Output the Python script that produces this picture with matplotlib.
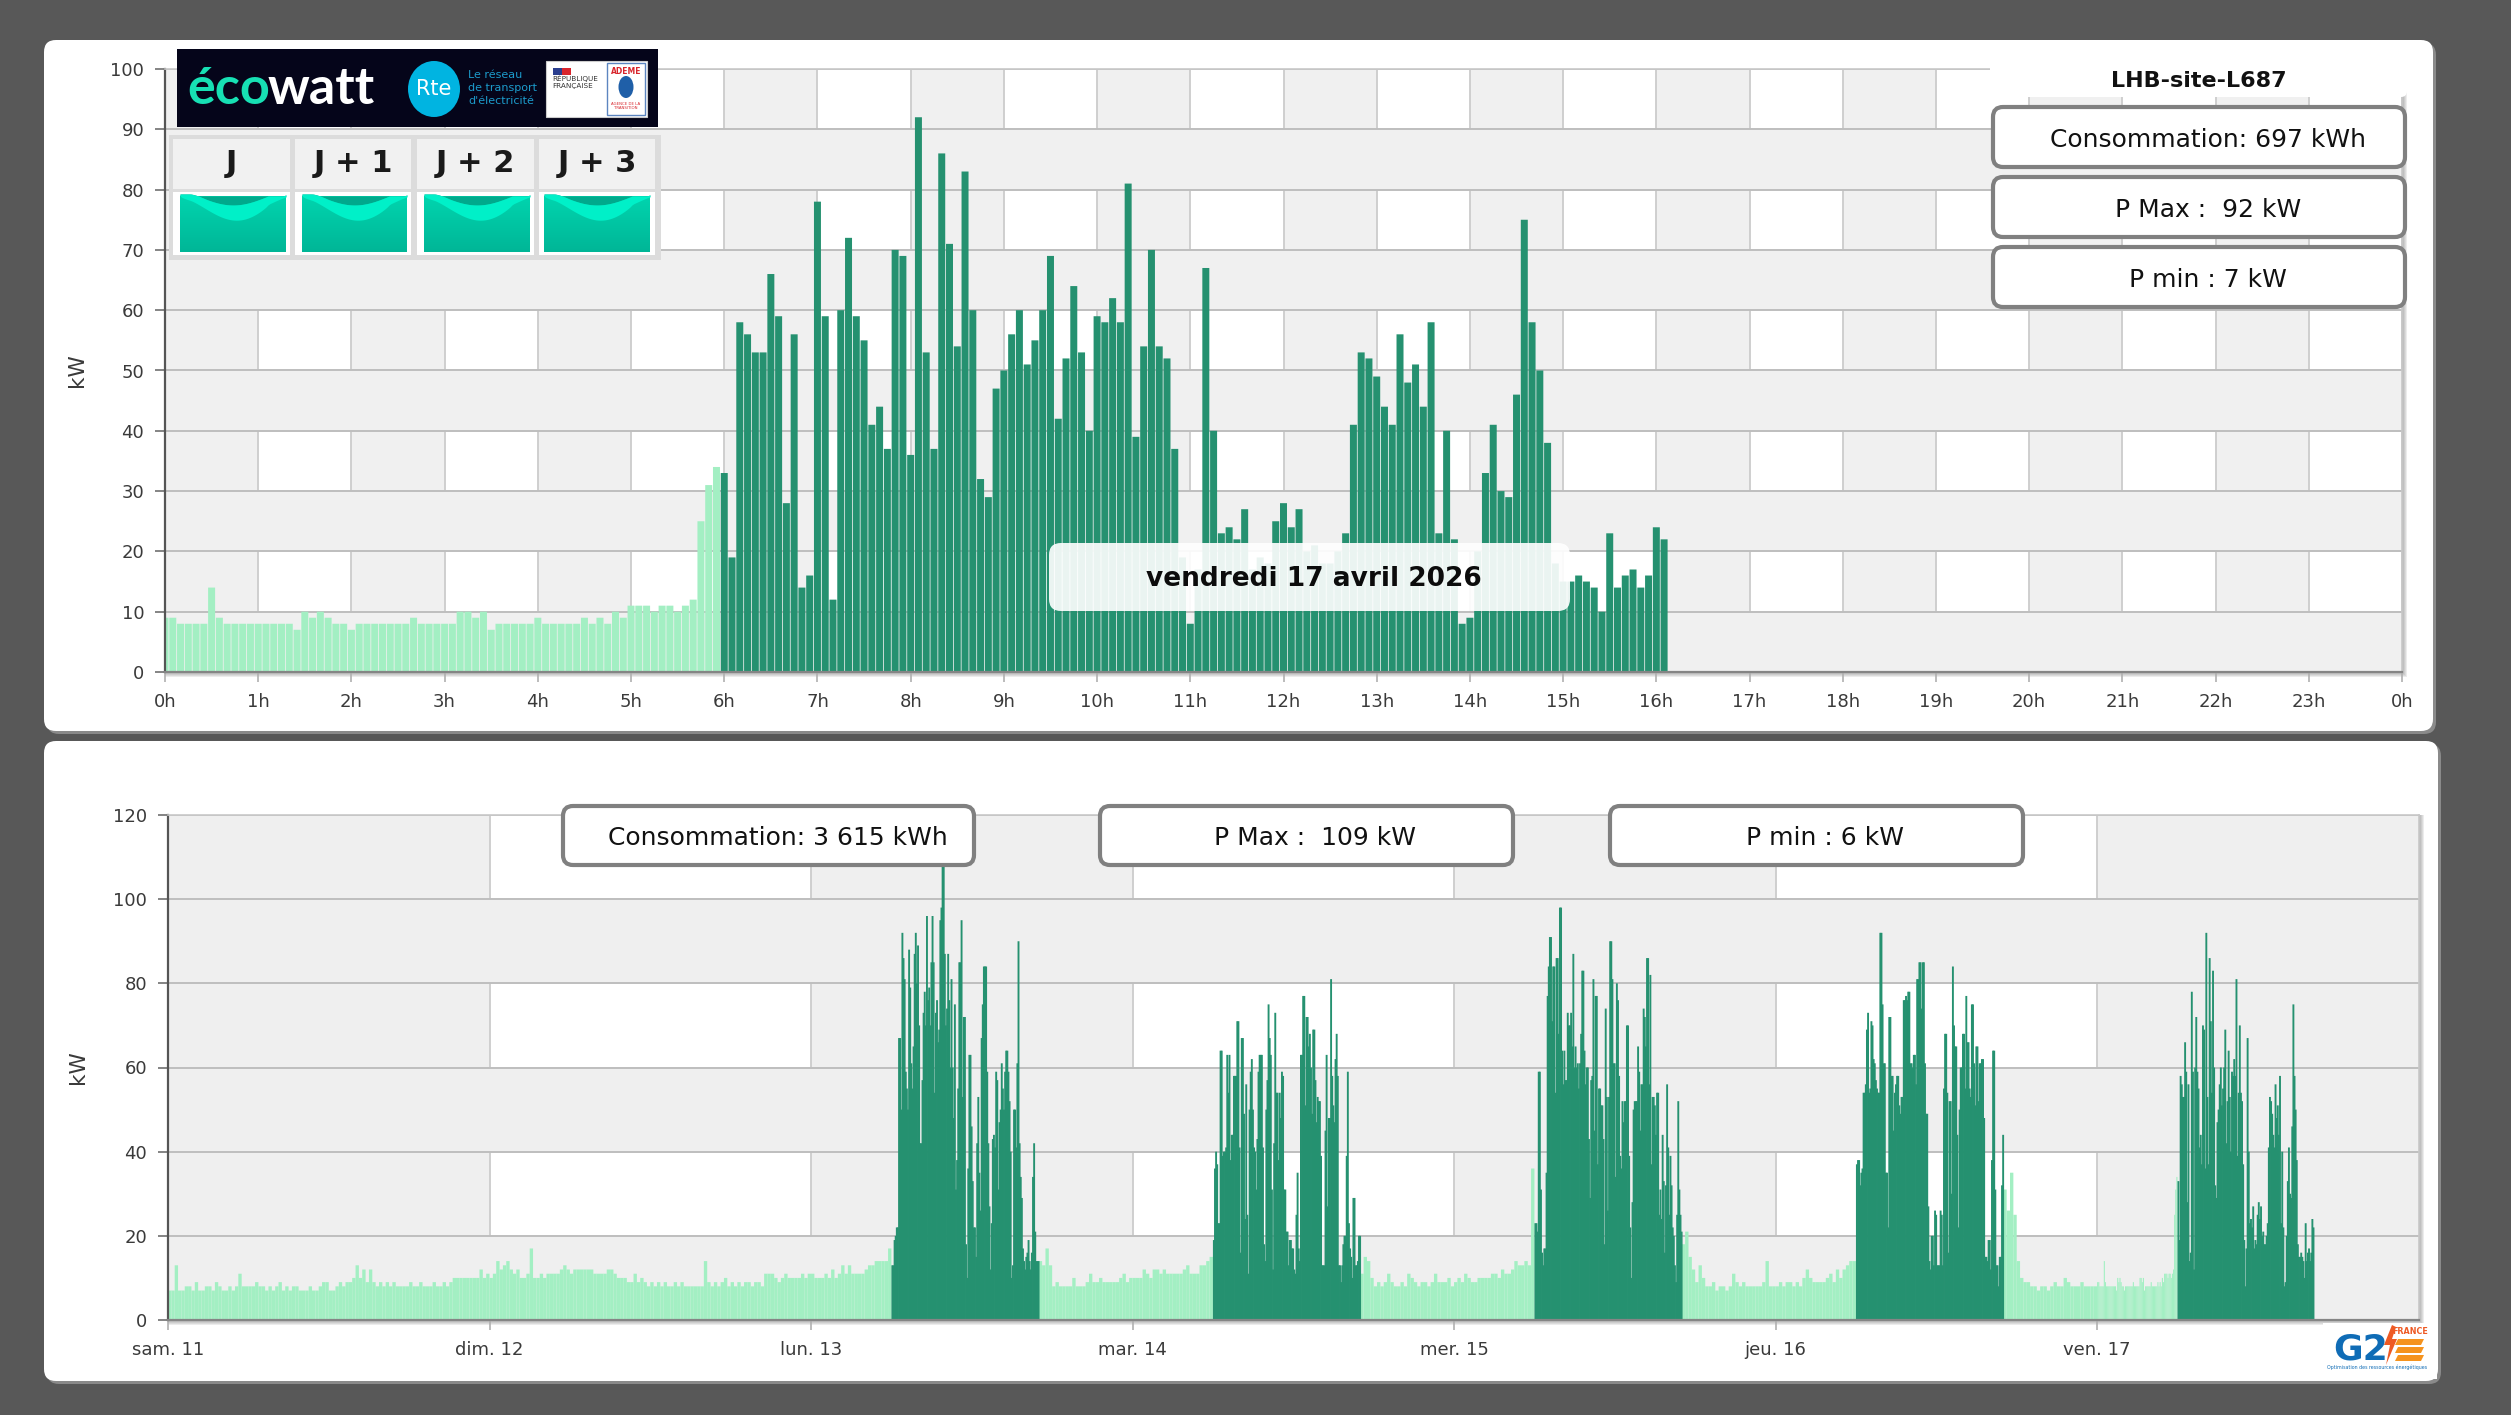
import numpy as np
import matplotlib
matplotlib.use("Agg")
import matplotlib.pyplot as plt
from matplotlib.patches import FancyBboxPatch, Rectangle, Ellipse, Polygon
from matplotlib.colors import LinearSegmentedColormap

# today, 5 minute steps, 0h00 to 5h55 (light) then 6h00 to 16h05 (dark)
today_light = [9, 9, 8, 8, 8, 8, 14, 9, 8, 8, 8, 8,
               8, 8, 8, 8, 8, 7, 10, 9, 10, 9, 8, 8,
               7, 8, 8, 8, 8, 8, 8, 8, 9, 8, 8, 8,
               8, 8, 10, 10, 9, 10, 7, 8, 8, 8, 8, 8,
               9, 8, 8, 8, 8, 8, 9, 8, 9, 8, 10, 9,
               11, 11, 11, 10, 11, 11, 10, 11, 12, 25, 31, 34]
today_dark = [33, 19, 58, 56, 53, 53, 66, 59, 28, 56, 14, 16,
              78, 59, 12, 60, 72, 59, 55, 41, 44, 37, 70, 69,
              36, 92, 53, 37, 86, 71, 54, 83, 60, 32, 29, 47,
              50, 56, 60, 51, 55, 60, 69, 42, 52, 64, 53, 40,
              59, 58, 62, 58, 81, 39, 54, 70, 54, 52, 37, 19,
              8, 17, 67, 40, 23, 24, 22, 27, 17, 19, 18, 25,
              28, 24, 27, 20, 21, 18, 18, 20, 23, 41, 53, 52,
              49, 44, 41, 56, 48, 51, 44, 58, 23, 40, 22, 8,
              9, 20, 33, 41, 30, 29, 46, 75, 58, 50, 38, 18,
              15, 15, 16, 15, 14, 10, 23, 14, 16, 17, 14, 16,
              24, 22]

# week, working hours 6h00 to 16h55, 5 minute steps
lun_dark = [13, 13, 19, 20, 22, 22, 67, 67, 50, 92, 86, 81,
            59, 55, 50, 88, 79, 61, 55, 65, 87, 92, 80, 89,
            70, 42, 42, 57, 73, 78, 70, 96, 76, 79, 70, 85,
            96, 85, 54, 73, 76, 66, 69, 95, 98, 108, 109, 87,
            70, 74, 87, 76, 60, 81, 60, 48, 75, 31, 38, 55,
            85, 85, 95, 53, 72, 72, 18, 10, 36, 63, 63, 46,
            33, 22, 22, 15, 42, 53, 35, 26, 67, 75, 84, 84,
            84, 59, 42, 27, 12, 23, 43, 44, 41, 59, 57, 31,
            47, 50, 61, 55, 50, 59, 64, 64, 59, 52, 40, 10,
            13, 50, 50, 41, 61, 90, 42, 34, 29, 17, 14, 12,
            15, 16, 19, 14, 12, 16, 34, 42, 21, 14, 14, 14]
mar_dark = [19, 36, 40, 37, 23, 23, 64, 64, 39, 40, 40, 41,
            63, 54, 63, 38, 44, 44, 58, 58, 58, 71, 71, 41,
            16, 67, 67, 49, 24, 56, 25, 11, 50, 59, 62, 50,
            41, 40, 31, 43, 59, 63, 63, 63, 41, 18, 14, 50,
            57, 75, 67, 63, 31, 12, 42, 73, 54, 54, 38, 54,
            48, 59, 58, 31, 31, 21, 21, 13, 19, 19, 17, 17,
            12, 11, 25, 35, 17, 14, 63, 63, 77, 77, 51, 72,
            72, 65, 68, 60, 49, 69, 69, 57, 47, 53, 52, 52,
            39, 13, 13, 13, 45, 63, 27, 48, 48, 81, 58, 51,
            47, 62, 68, 58, 13, 13, 9, 13, 18, 20, 20, 39,
            59, 23, 17, 15, 10, 29, 29, 13, 13, 14, 20, 20]
mer_dark = [23, 23, 21, 59, 59, 31, 16, 13, 17, 17, 35, 77,
            84, 91, 91, 71, 84, 84, 54, 86, 86, 68, 98, 98,
            64, 56, 64, 57, 57, 73, 70, 70, 73, 65, 87, 60,
            65, 60, 61, 55, 61, 68, 83, 83, 64, 56, 60, 60,
            43, 29, 57, 58, 81, 45, 77, 77, 37, 55, 55, 51,
            51, 43, 18, 74, 53, 26, 53, 90, 90, 81, 61, 61,
            34, 80, 76, 58, 39, 36, 52, 47, 52, 52, 70, 70,
            39, 22, 10, 28, 50, 52, 52, 52, 65, 59, 45, 56,
            56, 74, 72, 65, 86, 86, 56, 82, 37, 53, 53, 51,
            44, 54, 54, 25, 31, 24, 44, 33, 16, 32, 56, 41,
            25, 39, 32, 22, 20, 13, 9, 25, 52, 31, 25, 21]
jeu_dark = [37, 38, 38, 32, 35, 36, 54, 54, 56, 69, 73, 54,
            55, 71, 70, 62, 61, 57, 55, 54, 54, 92, 92, 75,
            61, 61, 35, 35, 22, 72, 72, 58, 58, 45, 54, 56,
            58, 58, 51, 49, 53, 53, 76, 76, 77, 76, 78, 78,
            61, 61, 60, 63, 63, 56, 81, 81, 85, 85, 74, 85,
            85, 61, 49, 49, 27, 14, 12, 20, 20, 13, 26, 25,
            13, 13, 13, 26, 25, 13, 55, 68, 68, 54, 16, 52,
            52, 30, 84, 70, 65, 65, 44, 22, 50, 60, 60, 68,
            68, 55, 77, 66, 66, 55, 53, 75, 75, 61, 51, 65,
            65, 52, 61, 61, 62, 62, 48, 15, 15, 14, 19, 19,
            12, 38, 64, 64, 31, 13, 13, 8, 15, 15, 32, 44]

# week, off hours, 15 minute steps, one row per hour
weekend_light = [7, 7, 13, 7, 7, 8, 8, 7, 9, 7, 7, 8, 8, 7, 9, 8,
                 7, 7, 8, 7, 8, 11, 8, 8, 8, 8, 9, 8, 8, 7, 8, 7,
                 8, 9, 7, 8, 7, 8, 8, 7, 7, 7, 8, 7, 7, 8, 9, 9,
                 7, 7, 8, 9, 8, 9, 9, 10, 13, 10, 12, 9, 12, 9, 8, 9,
                 8, 9, 8, 9, 8, 8, 8, 8, 9, 8, 8, 9, 8, 8, 8, 9,
                 8, 8, 9, 8, 9, 10, 10, 10, 10, 10, 10, 10, 10, 12, 10, 11,
                 10, 11, 14, 12, 13, 14, 12, 11, 12, 10, 10, 11, 17, 10, 10, 11,
                 10, 11, 11, 11, 11, 12, 13, 12, 11, 12, 12, 12, 12, 12, 12, 11,
                 11, 11, 11, 12, 12, 11, 10, 10, 10, 9, 9, 11, 9, 10, 9, 8,
                 9, 8, 9, 8, 9, 8, 8, 9, 8, 9, 8, 8, 8, 8, 8, 8,
                 14, 9, 8, 9, 8, 9, 10, 8, 9, 8, 9, 8, 9, 9, 8, 9,
                 9, 8, 11, 11, 11, 10, 9, 10, 11, 10, 10, 10, 10, 11, 10, 11,
                 11, 10, 10, 10, 11, 10, 12, 10, 11, 13, 11, 13, 11, 11, 11, 11,
                 12, 13, 13, 14, 14, 14, 14, 17]
lun_night = [14, 13, 17, 13, 8, 9, 8, 8, 8, 8, 10, 8, 8, 8, 9, 11,
             9, 9, 10, 9, 9, 9, 9, 9, 10, 11, 9, 10, 10, 10, 10, 12,
             11, 10, 12, 12, 11, 12, 11, 11, 11, 11, 11, 12, 13, 11, 11, 11,
             13, 13, 14, 15]
mar_night = [11, 15, 14, 10, 8, 9, 8, 9, 11, 9, 8, 8, 9, 8, 11, 10,
             9, 8, 9, 9, 8, 9, 11, 9, 9, 9, 10, 8, 9, 10, 9, 11,
             10, 9, 9, 10, 10, 10, 10, 11, 11, 10, 12, 11, 11, 12, 14, 13,
             13, 14, 13, 36]
mer_night = [18, 21, 15, 12, 9, 13, 10, 8, 8, 9, 7, 8, 8, 7, 8, 11,
             9, 8, 9, 8, 8, 8, 8, 8, 9, 14, 8, 8, 8, 9, 8, 9,
             9, 8, 9, 8, 10, 12, 10, 9, 9, 9, 9, 10, 11, 9, 12, 10,
             12, 13, 14, 14]
jeu_night = [31, 26, 35, 25, 14, 10, 9, 9, 8, 8, 7, 8, 8, 7, 8, 9,
             8, 8, 10, 9, 8, 8, 8, 9, 8, 8, 8, 8]

hour_labels = ['%dh' % (h % 24) for h in range(25)]
day_labels = ['sam. 11', 'dim. 12', 'lun. 13', 'mar. 14', 'mer. 15', 'jeu. 16', 'ven. 17']
top_yticks = list(range(0, 101, 10))
bottom_yticks = list(range(0, 121, 20))
top_stats = ['Consommation: 697 kWh', 'P Max :  92 kW', 'P min : 7 kW']
week_stats = ['Consommation: 3 615 kWh', 'P Max :  109 kW', 'P min : 6 kW']
eco_days = ['J', 'J + 1', 'J + 2', 'J + 3']

W, H = 2511, 1415
DARK = '#259170'
LIGHT = '#A3EFC3'
BAND = '#F0F0F0'
HGRID = '#BEBEBE'
VGRID = '#CFCFCF'
TXT = '#3A3A3A'
plt.rcParams['font.family'] = ['DejaVu Sans']

fig = plt.figure(figsize=(W / 100, H / 100), dpi=100, facecolor='#585858')


def px_axes(left, top, right, bottom, z):
    return fig.add_axes([left / W, 1 - bottom / H, (right - left) / W, (bottom - top) / H], zorder=z)


def rounded(ax, x0, y0, x1, y1, r, **kw):
    p = FancyBboxPatch((x0, y0), x1 - x0, y1 - y0, boxstyle='round,pad=0,rounding_size=%g' % r, **kw)
    ax.add_patch(p)
    return p


# panels and plot shadows, behind the charts
bg = fig.add_axes([0, 0, 1, 1], zorder=0)
bg.set_xlim(0, W)
bg.set_ylim(H, 0)
bg.axis('off')
for x0, y0, x1, y1 in [(44, 40, 2433, 731), (44, 741, 2438, 1381)]:
    rounded(bg, x0 + 3, y0 + 3, x1 + 3, y1 + 3, 12, fc='#8a8a8a', ec='none')
    rounded(bg, x0, y0, x1, y1, 12, fc='white', ec='none')
for d in range(1, 6):
    bg.add_patch(Rectangle((165, 69), 2402 - 165 + d, 603 + d, fc='#707070', ec='none', alpha=0.13))
    bg.add_patch(Rectangle((168, 815), 2419 - 168 + d, 505 + d, fc='#707070', ec='none', alpha=0.13))


def style_axes(ax, xticks, xlabels, yticks, xspan, yspan, band):
    ax.set_facecolor('white')
    ax.set_xticks(xticks)
    ax.set_xticklabels(xlabels, fontsize=13, color=TXT)
    ax.set_yticks(yticks)
    ax.tick_params(axis='y', labelsize=13, labelcolor=TXT, length=7, width=1.2, color='#707070', pad=8)
    ax.tick_params(axis='x', length=7, width=1.2, color='#B0B0B0', pad=8)
    # columns first, the full width rows then hide the vertical lines
    for x in xticks[::2]:
        ax.axvspan(x, x + xspan, fc=band, ec='none', zorder=0.1)
    for x in xticks:
        ax.axvline(x, color=VGRID, lw=1.4, zorder=0.2)
    for y in yticks[::2]:
        ax.axhspan(y, y + yspan, fc=band, ec='none', zorder=0.3)
    for y in yticks:
        ax.axhline(y, color=HGRID, lw=1.4, zorder=0.4)
    for s in ['top', 'right']:
        ax.spines[s].set_color('#C8C8C8')
        ax.spines[s].set_linewidth(1.2)
    ax.spines['left'].set_color('#555555')
    ax.spines['left'].set_linewidth(1.6)
    ax.spines['bottom'].set_color('#858585')
    ax.spines['bottom'].set_linewidth(1.6)


# day chart
ax1 = px_axes(165, 69, 2402, 672, 1)
style_axes(ax1, list(range(25)), hour_labels, top_yticks, 1, 10, BAND)
ax1.set_xlim(0, 24)
ax1.set_ylim(0, 100)
step = 1 / 12
t_light = np.arange(len(today_light)) * step
t_dark = 6 + np.arange(len(today_dark)) * step
ax1.bar(t_light, today_light, width=step * 0.9, color=LIGHT, lw=0, zorder=2, snap=False)
ax1.bar(t_dark, today_dark, width=step * 0.9, color=DARK, lw=0, zorder=2, snap=False)
ax1.set_ylabel('kW', fontsize=15.5, color=TXT)
ax1.yaxis.set_label_coords((87 - 165) / (2402 - 165), 0.5)

# week chart
ax2 = px_axes(168, 815, 2418.6, 1320, 1)
style_axes(ax2, list(range(7)), day_labels, bottom_yticks, 1, 20, '#EFEFEF')
ax2.set_xlim(0, 7)
ax2.set_ylim(0, 120)
q = 1 / 96
m5 = 1 / 288
ax2.bar(np.arange(len(weekend_light)) * q, weekend_light, width=q, align='edge', color=LIGHT, lw=0, zorder=2, snap=False)
for day, night in [(2, lun_night), (3, mar_night), (4, mer_night), (5, jeu_night)]:
    ax2.bar(day + 17 / 24 + np.arange(len(night)) * q, night, width=q, align='edge', color=LIGHT, lw=0, zorder=2, snap=False)
ax2.bar(6 + np.arange(len(today_light)) * m5, today_light, width=m5, align='edge', color=LIGHT, lw=0, zorder=2, snap=False)
for day, vals in [(2, lun_dark), (3, mar_dark), (4, mer_dark), (5, jeu_dark), (6, today_dark)]:
    ax2.bar(day + 0.25 + np.arange(len(vals)) * m5, vals, width=m5 * 1.7, align='edge', color=DARK, lw=0, zorder=2, snap=False)
ax2.set_ylabel('kW', fontsize=15.5, color=TXT)
ax2.yaxis.set_label_coords((88 - 168) / (2418.6 - 168), 0.5)

# everything that sits on top of the charts
ov = fig.add_axes([0, 0, 1, 1], zorder=5)
ov.patch.set_alpha(0)
ov.axis('off')

# date banner
rounded(ov, 1049, 543, 1570, 611, 12, fc='white', ec='none', alpha=0.91)
ov.text(1314, 579, 'vendredi 17 avril 2026', ha='center', va='center', fontsize=19, fontweight='bold', color='#0c0c0c')

# site title and stat boxes
rounded(ov, 1990, 40, 2407, 97, 6, fc='white', ec='none')
ov.text(2199, 81, 'LHB-site-L687', ha='center', va='center', fontsize=16, fontweight='bold', color='#111111')
for (y0, y1), label in zip([(107, 167), (177, 237), (247, 307)], top_stats):
    rounded(ov, 1993, y0, 2405, y1, 10, fc='white', ec='#808080', lw=3)
    ov.text(2208, (y0 + y1) / 2 + 3, label, ha='center', va='center', fontsize=18, color='#111111')
for (x0, x1), label in zip([(563, 974), (1100, 1513), (1610, 2023)], week_stats):
    rounded(ov, x0, 806, x1, 865, 10, fc='white', ec='#808080', lw=3)
    ov.text((x0 + x1) / 2 + 9, 838, label, ha='center', va='center', fontsize=18, color='#111111')

# ecowatt banner
ov.add_patch(Rectangle((177, 49), 481, 78, fc='#05051A', ec='none'))
ov.text(270, 90, 'éco', ha='right', va='center', fontsize=37.5, fontweight='bold', family='Lato', color='#17E0B4')
ov.text(268, 90, 'watt', ha='left', va='center', fontsize=37.5, fontweight='bold', family='Lato', color='white')
ov.add_patch(Ellipse((434, 89), 52, 56, fc='#00B4E1', ec='none'))
ov.text(434, 89, 'Rte', ha='center', va='center', fontsize=15, color='white')
for yy, line in zip([75, 88, 101], ['Le réseau', 'de transport', "d'électricité"]):
    ov.text(468, yy, line, ha='left', va='center', fontsize=8, color='#1C9BCB')
ov.add_patch(Rectangle((546, 61), 101, 56, fc='white', ec='#cccccc', lw=0.8))
ov.add_patch(Rectangle((553, 68), 9, 7, fc='#2A3E8F', ec='none'))
ov.add_patch(Rectangle((562, 68), 9, 7, fc='#D8252C', ec='none'))
ov.text(552, 82, 'RÉPUBLIQUE\nFRANÇAISE', ha='left', va='center', fontsize=5.2, color='#333333', linespacing=1.1)
ov.add_patch(Rectangle((607, 63), 38, 52, fc='white', ec='#5C85C0', lw=1))
ov.text(626, 71, 'ADEME', ha='center', va='center', fontsize=5.5, fontweight='bold', color='#D8252C')
ov.add_patch(Ellipse((626, 87), 15, 22, fc='#1F5FA8', ec='none'))
ov.text(626, 106, 'AGENCE DE LA\nTRANSITION', ha='center', va='center', fontsize=2.8, color='#D8252C')

# J, J+1... table
ov.add_patch(Rectangle((169, 135), 492, 125, fc='#DCDCDC', ec='none'))
wave_cmap = LinearSegmentedColormap.from_list('wave', ['#00D4AE', '#00B697'])
for (cx0, cx1), (sx0, sx1), label in zip([(173, 290), (295, 411), (417, 534), (539, 655)],
                                         [(180, 286), (302, 407), (424, 530), (544, 650)], eco_days):
    ov.add_patch(Rectangle((cx0, 139), cx1 - cx0, 49.5, fc='#F1F1F1', ec='none'))
    ov.add_patch(Rectangle((cx0, 192), cx1 - cx0, 63, fc='white', ec='none'))
    ov.text((cx0 + cx1) / 2, 164, label, ha='center', va='center', fontsize=22, fontweight='bold', color='#1A1A1A')
    ov.imshow(np.linspace(0, 1, 40).reshape(-1, 1), extent=(sx0, sx1, 252, 196), cmap=wave_cmap, aspect='auto', zorder=3)
    xs = np.linspace(sx0, sx1, 60)
    u = (xs - sx0) / (sx1 - sx0)
    crest = 196 + 9 * np.sin(np.clip(u * 1.5 - 0.25, 0, 1) * np.pi)
    upper = 196 + 16 * np.sin(np.clip(u * 1.05 - 0.1, 0, 1) * np.pi) ** 1.5
    lower = upper + 9 * np.sin(np.clip(u * 1.2, 0, 1) * np.pi) ** 0.7
    ov.fill_between(xs, 196, np.minimum(upper - 2, crest), color='#00A98C', lw=0, zorder=4)
    ov.fill_between(xs, np.minimum(upper - 2, crest), lower, color='#00F0C8', lw=0, zorder=4)

# G2E logo
ov.add_patch(Rectangle((2323, 1323), 114, 56, fc='white', ec='none'))
ov.text(2333, 1349, 'G2', ha='left', va='center', fontsize=26, fontweight='bold', color='#0F6CB6')
ov.add_patch(Polygon([(2392, 1325), (2384, 1345), (2390, 1345), (2386, 1365), (2397, 1339), (2392, 1339), (2396, 1327)],
                     fc='#EE5A24', ec='none'))
for yy in [1339, 1347, 1355]:
    ov.add_patch(Polygon([(2398, yy), (2424, yy), (2421, yy + 6), (2395, yy + 6)], fc='#F5931E', ec='none'))
ov.text(2410, 1332, 'FRANCE', ha='center', va='center', fontsize=5.8, fontweight='bold', color='#EE5A24')
ov.text(2377, 1367, 'Optimisation des ressources énergétiques', ha='center', va='center', fontsize=3.4, color='#0F6CB6')

ov.set_xlim(0, W)
ov.set_ylim(H, 0)

fig.savefig('out.png', dpi=100, facecolor=fig.get_facecolor())
